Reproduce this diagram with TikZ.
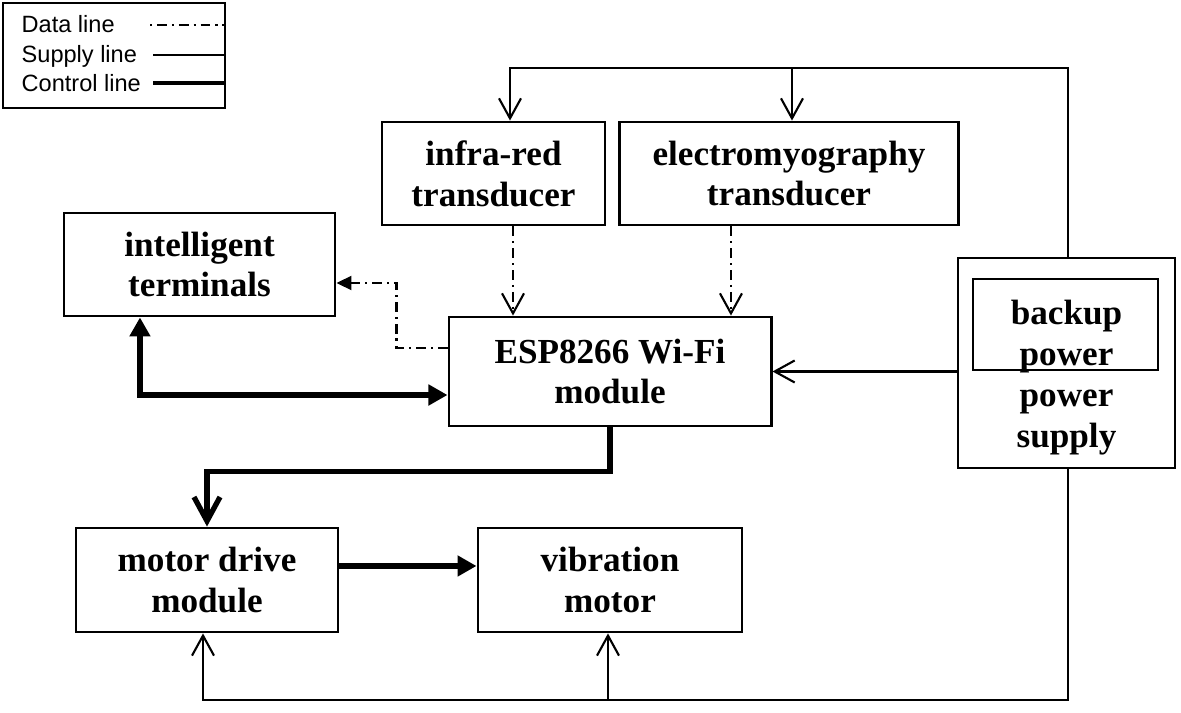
\documentclass[tikz,border=0pt]{standalone}
\usepackage{fontspec}
\setmainfont{Liberation Serif}
\setsansfont{Liberation Sans}
\usetikzlibrary{arrows.meta, positioning}

\begin{document}
\begin{tikzpicture}[x=0.01cm, y=-0.01cm,
    box/.style={draw, line width=0.8pt, align=center, inner sep=0pt,
      font=\fontsize{10}{11.6}\selectfont\bfseries},
    legtext/.style={anchor=base west, inner sep=0pt, font=\fontsize{6.7}{8}\selectfont\sffamily},
    supply/.style={line width=0.6pt, -{Straight Barb[length=2mm, width=2.2mm, line width=0.6pt]}},
    data/.style={line width=0.6pt, dash pattern=on 2.8pt off 1.4pt on 0.6pt off 1.4pt,
      -{Straight Barb[length=2mm, width=2.2mm, line width=0.6pt]}},
    control/.style={line width=1.5pt, -{Triangle[length=1.9mm, width=2mm]}}]
      \useasboundingbox (0, 0) rectangle (1181, 713);
      \node (legend)[draw, line width=0.6pt, minimum width=2.22cm, minimum height=1.05cm, anchor=north west] at (2, 2) {};
      \node (legdata)[legtext] at (21, 33) {Data line};
      \node (legsupply)[legtext] at (21, 63) {Supply line};
      \node (legcontrol)[legtext] at (21, 92) {Control line};
      \draw[line width=0.6pt, dash pattern=on 0.6pt off 1.4pt on 2.8pt off 1.4pt] (150, 25) -- (legend.east |- 0, 25);
      \draw[line width=0.6pt] (153, 55) -- (legend.east |- 0, 55);
      \draw[line width=1.4pt] (153, 83) -- (legend.east |- 0, 83);
      \node (infra)[box, minimum width=2.23cm, minimum height=1.03cm] at (493.5, 173.5) {infra-red\\transducer};
      \node (emg)[box, minimum width=3.38cm, minimum height=1.03cm] at (789, 173.5) {electromyography\\transducer};
      \node (term)[box, minimum width=2.71cm, minimum height=1.03cm] at (199.5, 264.5) {intelligent\\terminals};
      \node (esp)[box, minimum width=3.22cm, minimum height=1.09cm] at (610, 371.5) {ESP8266 Wi-Fi\\module};
      \node (supply)[box, minimum width=2.17cm, minimum height=2.10cm] at (1066.5, 363)
        {\begin{tabular}{@{}c@{}}\rule{0pt}{16.6pt}backup\\power\\power\\supply\end{tabular}};
      \node (backup)[draw, line width=0.8pt, minimum width=1.85cm, minimum height=0.91cm] at (1065.5, 324.5) {};
      \node (motor)[box, minimum width=2.62cm, minimum height=1.04cm] at (207, 580) {motor drive\\module};
      \node (vib)[box, minimum width=2.64cm, minimum height=1.04cm] at (610, 580) {vibration\\motor};
      \coordinate (tr) at (1068, 68);
      \coordinate (tl) at (510, 68);
      \coordinate (tm) at (792, 68);
      \coordinate (br) at (1068, 700);
      \coordinate (bl) at (203, 700);
      \coordinate (bm) at (608, 700);
      \draw[supply] (supply.north -| tr) -- (tr) -- (tl) -- (tl |- infra.north);
      \draw[supply] (tm) -- (tm |- emg.north);
      \draw[supply] (supply.west |- esp.east) -- (esp.east);
      \draw[supply] (supply.south -| br) -- (br) -- (bl) -- (bl |- motor.south);
      \draw[supply] (bm) -- (bm |- vib.south);
      \draw[data] ([xshift=0.195cm]infra.south) -- ([xshift=0.195cm]infra.south |- esp.north);
      \draw[data] ([xshift=-0.58cm]emg.south) -- ([xshift=-0.58cm]emg.south |- esp.north);
      \draw[data, -{Triangle[length=1.5mm, width=1.4mm]}] ([yshift=0.235cm]esp.west) -| ([xshift=0.6cm, yshift=-0.185cm]term.east) -- ([yshift=-0.185cm]term.east);
      \draw[control, {Triangle[length=1.9mm, width=2mm]}-{Triangle[length=1.9mm, width=2mm]}] ([xshift=-0.595cm]term.south) |- ([yshift=-0.235cm]esp.west);
      \draw[control, -{Straight Barb[length=2.4mm, width=2.6mm, line width=1.5pt]}] (esp.south) -- ++(0, 44) -| (motor.north);
      \draw[control] ([yshift=0.14cm]motor.east) -- ([yshift=0.14cm]vib.west);
    \end{tikzpicture}
\end{document}
